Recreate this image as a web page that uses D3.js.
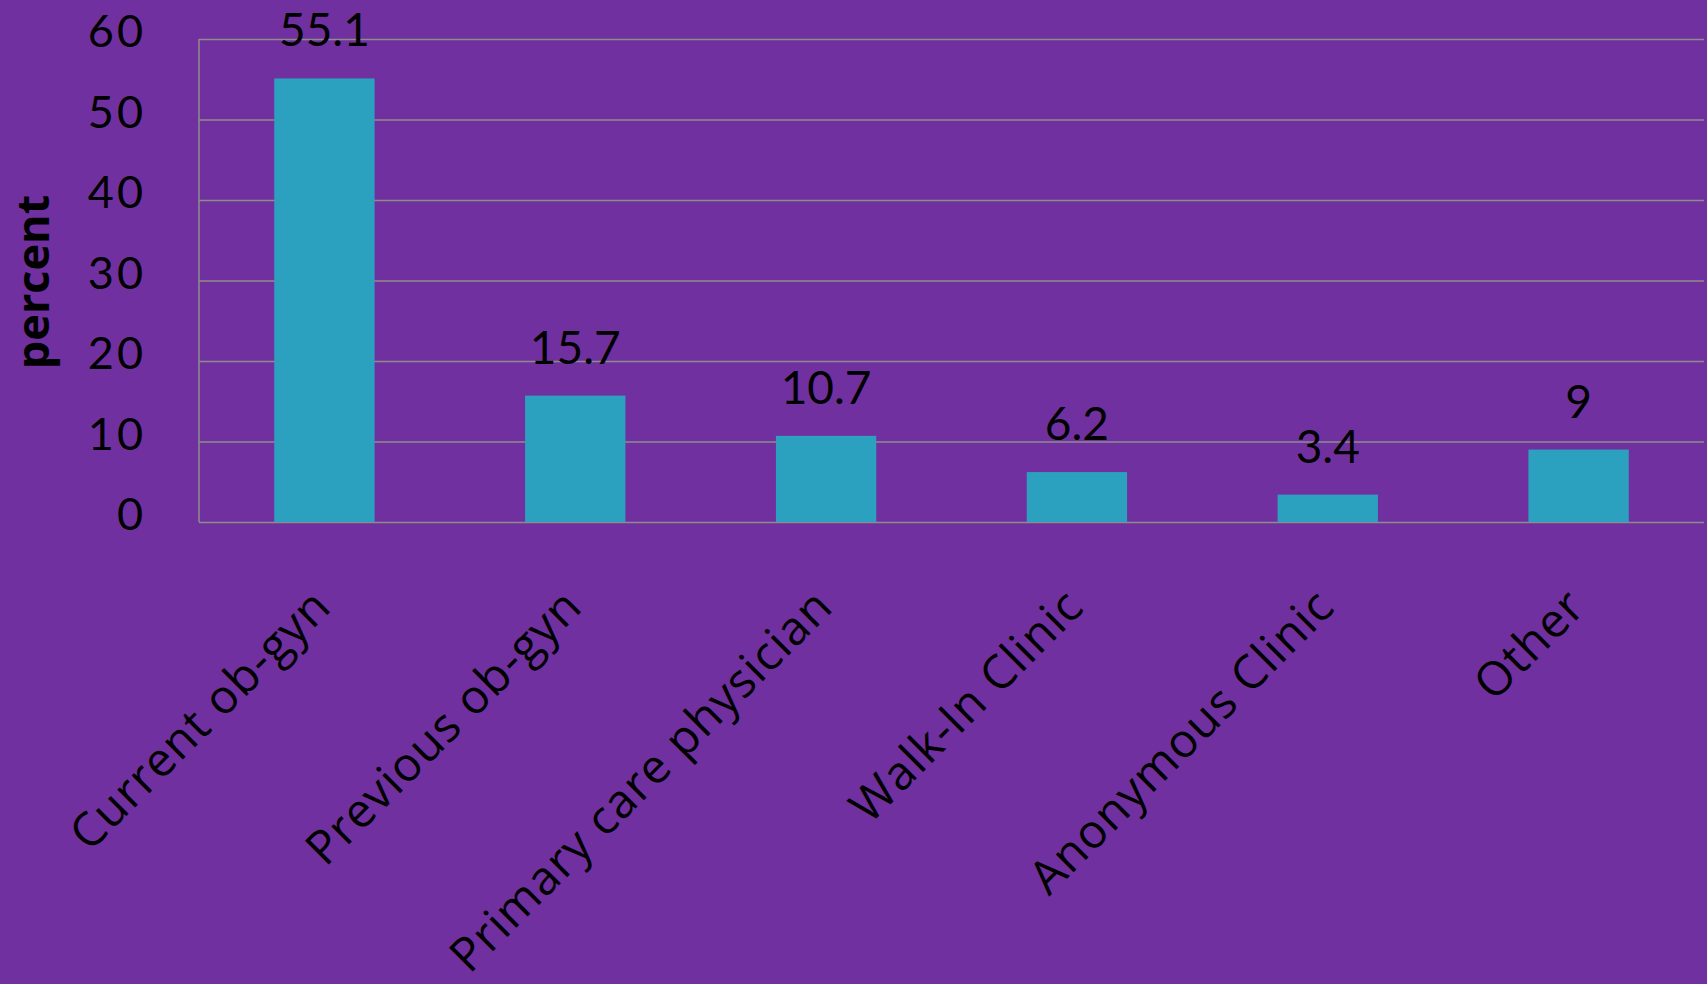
<!DOCTYPE html>
<html>
<head>
<meta charset="utf-8">
<script src="https://cdn.jsdelivr.net/npm/d3@7"></script>
<style>
  html, body { margin: 0; padding: 0; background: #7030A0; }
  svg { display: block; }
  text { font-family: "Open Sans", sans-serif; fill: #000; }
</style>
</head>
<body>
<div id="chart"></div>
<script>
// Chart data
const categories = ["Current ob-gyn", "Previous ob-gyn", "Primary care physician", "Walk-In Clinic", "Anonymous Clinic", "Other"];
const percents = [55.1, 15.7, 10.7, 6.2, 3.4, 9];
const yTicks = [0, 10, 20, 30, 40, 50, 60];

const W = 1707, H = 984;
const margin = { top: 39, right: 3, bottom: 462, left: 199 };
const width = W - margin.left - margin.right;
const height = H - margin.top - margin.bottom;

const svg = d3.select("#chart")
    .append("svg")
    .attr("width", W)
    .attr("height", H);

svg.append("rect")
    .attr("width", W)
    .attr("height", H)
    .attr("fill", "#7030A0");

const g = svg.append("g")
    .attr("transform", `translate(${margin.left},${margin.top})`);

const x = d3.scaleBand()
    .domain(categories)
    .range([0, width])
    .paddingInner(0.6)
    .paddingOuter(0.3);

const y = d3.scaleLinear()
    .domain([0, 60])
    .range([height, 0]);

// gridlines
g.append("g")
    .call(d3.axisLeft(y).tickValues(yTicks).tickSize(-width).tickFormat(""))
    .call(a => a.select(".domain").remove())
    .selectAll("line")
    .attr("stroke", "#8C8C8C")
    .attr("stroke-width", 1.5);

// left axis line
g.append("line")
    .attr("x1", 0).attr("x2", 0)
    .attr("y1", 0).attr("y2", height)
    .attr("stroke", "#8C8C8C")
    .attr("stroke-width", 1.5);

// y tick labels
g.append("g")
    .call(d3.axisLeft(y).tickValues(yTicks).tickSize(0).tickPadding(53))
    .call(a => a.select(".domain").remove())
    .selectAll("text")
    .attr("dy", "0.17em")
    .style("font-size", "45px")
    .style("font-family", "Lato, sans-serif")
    .style("letter-spacing", "3px")
    .attr("fill", "#000");

// bars
g.selectAll(".bar")
    .data(percents)
    .enter().append("rect")
    .attr("class", "bar")
    .attr("x", (d, i) => x(categories[i]))
    .attr("y", d => y(d))
    .attr("width", x.bandwidth())
    .attr("height", d => height - y(d))
    .attr("fill", "#2BA1BF");

// value labels
g.selectAll(".bar-label")
    .data(percents)
    .enter().append("text")
    .attr("class", "bar-label")
    .attr("x", (d, i) => x(categories[i]) + x.bandwidth() / 2)
    .attr("y", d => y(d) - 32)
    .attr("text-anchor", "middle")
    .style("font-size", "46px")
    .style("font-family", "Lato, sans-serif")
    .text(d => d);

// x category labels, rotated
g.selectAll(".cat-label")
    .data(categories)
    .enter().append("text")
    .attr("class", "cat-label")
    .attr("text-anchor", "end")
    .attr("transform", d => `translate(${x(d) + x.bandwidth() / 2 + 9},${height + 87}) rotate(-45)`)
    .style("font-size", "47px")
    .style("letter-spacing", "1px")
    .text(d => d);

// y axis title
svg.append("text")
    .attr("transform", `translate(49,${margin.top + 243}) rotate(-90)`)
    .attr("text-anchor", "middle")
    .style("font-size", "45px")
    .style("font-weight", "bold")
    .text("percent");
</script>
</body>
</html>
